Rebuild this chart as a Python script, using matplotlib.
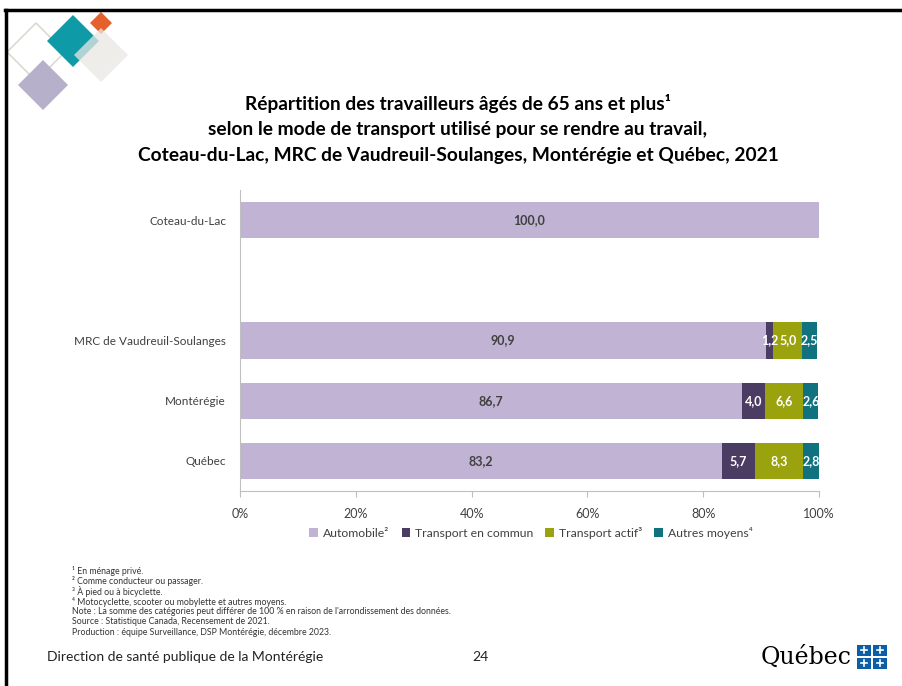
import matplotlib
matplotlib.use("Agg")
import matplotlib.pyplot as plt
from matplotlib.patches import Rectangle, Polygon
from matplotlib.lines import Line2D
import numpy as np

plt.rcParams['font.family'] = ['Lato', 'DejaVu Sans']

categories = ["Coteau-du-Lac", "", "MRC de Vaudreuil-Soulanges", "Montérégie", "Québec"]
series_names = ["Automobile²", "Transport en commun", "Transport actif³", "Autres moyens⁴"]
automobile = [100.0, np.nan, 90.9, 86.7, 83.2]
transport_commun = [0.0, np.nan, 1.2, 4.0, 5.7]
transport_actif = [0.0, np.nan, 5.0, 6.6, 8.3]
autres = [0.0, np.nan, 2.5, 2.6, 2.8]
colors = ["#c0b3d4", "#4b3c63", "#9aa30e", "#0f727e"]
label_colors = ["#404040", "white", "white", "white"]
xticks = [0, 20, 40, 60, 80, 100]
xtick_labels = ["0%", "20%", "40%", "60%", "80%", "100%"]

title = ("Répartition des travailleurs âgés de 65 ans et plus¹\n"
         "selon le mode de transport utilisé pour se rendre au travail,\n"
         "Coteau-du-Lac, MRC de Vaudreuil-Soulanges, Montérégie et Québec, 2021")
notes = ["¹ En ménage privé.",
         "² Comme conducteur ou passager.",
         "³ À pied ou à bicyclette.",
         "⁴ Motocyclette, scooter ou mobylette et autres moyens.",
         "Note : La somme des catégories peut différer de 100 % en raison de l'arrondissement des données.",
         "Source : Statistique Canada, Recensement de 2021.",
         "Production : équipe Surveillance, DSP Montérégie, décembre 2023."]

fig = plt.figure(figsize=(9.02, 6.86), dpi=100)
W, H = 902, 686

def fx(px):
    return px / W

def fy(py):
    return 1 - py / H

# slide border (top and left)
fig.add_artist(Line2D([fx(5), 1], [fy(10), fy(10)], color="black", lw=2.5, transform=fig.transFigure))
fig.add_artist(Line2D([fx(6), fx(6)], [fy(10), 0], color="black", lw=2.5, transform=fig.transFigure))

# decorative diamonds
def diamond(cx, cy, r, face, edge="none", alpha=1.0, lw=0):
    pts = [(fx(cx), fy(cy - r)), (fx(cx + r), fy(cy)), (fx(cx), fy(cy + r)), (fx(cx - r), fy(cy))]
    p = Polygon(pts, closed=True, facecolor=face, edgecolor=edge, alpha=alpha, lw=lw,
                transform=fig.transFigure, joinstyle="round")
    fig.add_artist(p)

diamond(36, 52, 29, "none", edge="#d5dccd", lw=1.2)
diamond(43, 85, 25, "#b7b0ca")
diamond(73, 41, 26, "#0f9aa8")
diamond(101, 23, 11, "#e5602a")
diamond(101, 55, 27, "#e9e7e4", alpha=0.75)

ax = fig.add_axes([fx(240), fy(491), fx(819) - fx(240), fy(190) - fy(491)])

series = [automobile, transport_commun, transport_actif, autres]
y = np.arange(len(categories))
left = np.zeros(len(categories))
for vals, name, col, lc in zip(series, series_names, colors, label_colors):
    v = np.nan_to_num(np.array(vals, dtype=float))
    ax.barh(y, v, left=left, height=0.6, color=col, label=name)
    for yi, (vi, li) in enumerate(zip(v, left)):
        if vi > 0:
            ax.text(li + vi / 2, yi, f"{vi:.1f}".replace(".", ","), ha="center", va="center",
                    color=lc, fontsize=9, fontweight="bold")
    left = left + v

ax.set_ylim(len(categories) - 0.5, -0.5)
ax.set_xlim(0, 100)
ax.set_yticks(y)
ax.set_yticklabels(categories, fontsize=8.5, color="#404040")
ax.set_xticks(xticks)
ax.set_xticklabels(xtick_labels, fontsize=9, color="#404040")
ax.tick_params(axis="y", length=0, pad=10)
ax.tick_params(axis="x", length=4, color="#bfbfbf", pad=8)
for s in ["top", "right"]:
    ax.spines[s].set_visible(False)
ax.spines["left"].set_color("#bfbfbf")
ax.spines["bottom"].set_color("#bfbfbf")

fig.legend(loc="center", bbox_to_anchor=(fx(531), fy(533)), ncol=4, frameon=False,
           fontsize=8.8, handlelength=0.7, handleheight=0.7, handletextpad=0.4,
           columnspacing=1.0, labelcolor="#404040")

fig.text(fx(458), fy(129), title, ha="center", va="center", fontsize=13.8,
         fontweight="bold", color="black", linespacing=1.6)

for i, n in enumerate(notes):
    fig.text(fx(72), fy(571 + i * 10.2), n, ha="left", va="center", fontsize=6.3, color="#333333")

fig.text(fx(47), fy(657), "Direction de santé publique de la Montérégie", ha="left", va="center",
         fontsize=10, color="#222222")
fig.text(fx(480), fy(657), "24", ha="center", va="center", fontsize=10, color="#222222")

# Québec logo
fig.text(fx(852), fy(657), "Québec", ha="right", va="center", fontsize=17,
         family="DejaVu Serif", color="black")
logo_blue = "#0b5ea7"
for (cx, cy) in [(864, 650), (880, 650), (864, 663), (880, 663)]:
    fig.add_artist(Rectangle((fx(cx - 7), fy(cy + 5.5)), fx(14), 11 / H, facecolor=logo_blue,
                             edgecolor="none", transform=fig.transFigure))
    fig.add_artist(Line2D([fx(cx - 3), fx(cx + 3)], [fy(cy), fy(cy)], color="white", lw=1.2,
                          transform=fig.transFigure))
    fig.add_artist(Line2D([fx(cx), fx(cx)], [fy(cy - 3), fy(cy + 3)], color="white", lw=1.2,
                          transform=fig.transFigure))

fig.savefig("out.png", dpi=100)
